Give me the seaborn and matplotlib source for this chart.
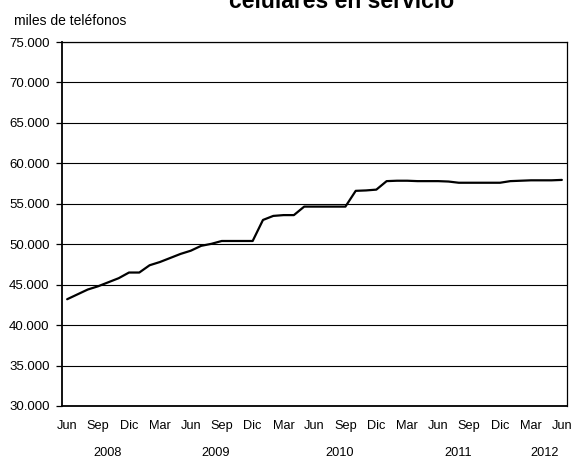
import matplotlib
matplotlib.use("Agg")
import matplotlib.pyplot as plt
import matplotlib.ticker as mticker
import seaborn as sns
import pandas as pd

# monthly data, Jun 2008 .. Jun 2012 (thousands of lines)
months = ["Jun", "Jul", "Ago", "Sep", "Oct", "Nov", "Dic",
          "Ene", "Feb", "Mar", "Abr", "May", "Jun", "Jul", "Ago", "Sep", "Oct", "Nov", "Dic",
          "Ene", "Feb", "Mar", "Abr", "May", "Jun", "Jul", "Ago", "Sep", "Oct", "Nov", "Dic",
          "Ene", "Feb", "Mar", "Abr", "May", "Jun", "Jul", "Ago", "Sep", "Oct", "Nov", "Dic",
          "Ene", "Feb", "Mar", "Abr", "May", "Jun"]
values = [43200, 43800, 44400, 44800, 45300, 45800, 46500,
          46500, 47400, 47800, 48300, 48800, 49200, 49800, 50050, 50400, 50400, 50400, 50400,
          53000, 53500, 53600, 53600, 54650, 54650, 54650, 54650, 54650, 56600, 56650, 56750,
          57800, 57850, 57850, 57800, 57800, 57800, 57750, 57600, 57600, 57600, 57600, 57600,
          57800, 57850, 57900, 57900, 57900, 57950]
tick_labels = ["Jun", "Sep", "Dic", "Mar"] * 4 + ["Jun"]
years = ["2008", "2009", "2010", "2011", "2012"]
year_pos = [3.94, 14.4, 26.4, 37.9, 46.3]

df = pd.DataFrame({"idx": range(len(values)), "mes": months, "valor": values})

sns.set_theme(style="white")
plt.rcParams["font.family"] = ["Liberation Sans", "DejaVu Sans"]

fig = plt.figure(figsize=(5.72, 4.59), dpi=100)
ax = fig.add_axes([62/572, 1-406/459, 505/572, 364/459])

sns.lineplot(data=df, x="idx", y="valor", ax=ax, color="black", linewidth=1.6)

ax.set_xlim(-0.5, len(values) - 0.5)
ax.set_ylim(30000, 75000)
ax.set_yticks(range(30000, 75001, 5000))
ax.yaxis.set_major_formatter(mticker.FuncFormatter(lambda v, p: f"{int(v):,}".replace(",", ".")))
ax.set_xticks(range(0, len(values), 3))
ax.set_xticklabels(tick_labels)
ax.grid(axis="y", color="black", linewidth=0.8)
ax.set_axisbelow(True)
ax.set_xlabel("")
ax.set_ylabel("")
for s in ax.spines.values():
    s.set_color("black")
    s.set_linewidth(0.9)
ax.spines["left"].set_linewidth(1.3)
ax.spines["bottom"].set_linewidth(1.3)
ax.tick_params(axis="y", which="major", left=True, length=4, width=0.9, color="black",
               pad=5, labelsize=9.5, labelcolor="black")
ax.tick_params(axis="x", which="major", bottom=False, length=0, pad=10,
               labelsize=9.2, labelcolor="black")

for y, p in zip(years, year_pos):
    ax.text(p, -0.138, y, transform=ax.get_xaxis_transform(), ha="center", va="baseline",
            fontsize=9.2, color="black")

fig.text(14/572, 1-25/459, "miles de teléfonos", fontsize=10, ha="left", va="baseline", color="black")
fig.text(342/572, 1-8/459, "celulares en servicio", fontsize=16.5, fontweight="bold",
         ha="center", va="baseline", color="black")

fig.savefig("out.png", dpi=100, facecolor="white")
